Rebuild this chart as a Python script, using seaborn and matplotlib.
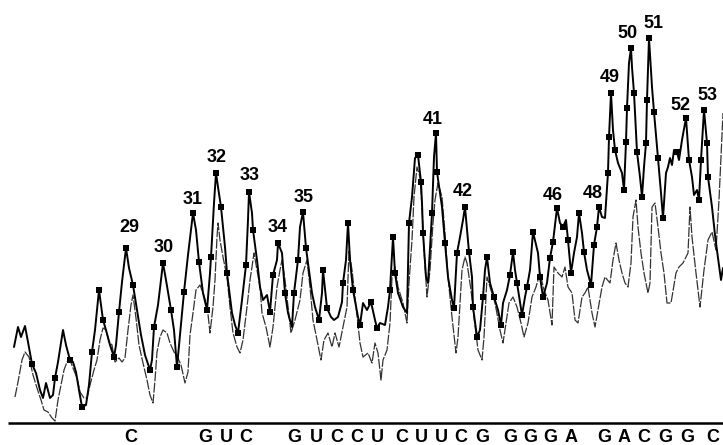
import matplotlib
matplotlib.use("Agg")
import matplotlib.pyplot as plt
import seaborn as sns
import pandas as pd

# Readings: (position, vertical reading, square marker?)
BASE = 423  # vertical reading of the baseline

solid_trace = [
    (14,347,0),(18,327,0),(21,337,0),(25,326,0),(28,342,0),(32,364,1),(36,373,0),(40,390,0),
    (43,398,0),(46,383,0),(50,398,0),(53,395,0),(55,378,1),(58,362,0),(63,330,0),(66,345,0),
    (70,360,1),(73,362,0),(76,372,0),(79,390,0),(82,407,1),(86,405,0),(89,385,0),(92,352,1),
    (95,330,0),(99,290,1),(103,320,1),(106,330,0),(110,345,0),(114,357,1),(116,345,0),(119,312,1),
    (122,282,0),(126,248,1),(129,268,0),(133,285,1),(137,310,0),(141,335,0),(145,355,0),(150,370,1),
    (152,360,0),(154,327,1),(158,305,0),(163,263,1),(166,280,0),(171,310,1),(174,330,0),(177,367,1),
    (180,335,0),(184,292,1),(188,255,0),(193,213,1),(196,230,0),(199,262,1),(203,293,0),(207,310,1),
    (210,273,0),(211,257,1),(214,203,0),(216,173,1),(218,187,0),(221,207,1),(225,247,0),(227,273,1),
    (232,313,0),(235,325,0),(238,333,1),(242,300,0),(246,265,1),(248,220,0),(249,192,1),(252,213,0),
    (253,230,1),(257,260,0),(260,287,0),(263,300,0),(267,295,0),(270,312,1),(273,275,1),(277,260,0),
    (278,243,1),(282,253,0),(285,293,1),(288,313,0),(292,327,0),(294,293,1),(298,260,1),(300,227,0),
    (303,212,1),(306,248,1),(308,263,0),(312,293,0),(315,307,0),(319,320,1),(322,293,0),(323,270,1),
    (327,308,1),(331,317,0),(334,320,0),(338,317,0),(342,302,0),(343,283,1),(346,260,0),(348,223,1),
    (350,260,0),(353,290,1),(358,317,0),(360,325,1),(363,303,0),(367,310,0),(371,302,1),(375,320,0),
    (377,328,1),(380,323,0),(385,325,0),(388,307,0),(390,290,1),(393,237,1),(395,273,1),(398,293,0),
    (403,307,0),(407,313,0),(409,223,1),(412,197,0),(415,158,0),(418,155,1),(421,182,1),(422,203,0),
    (423,233,1),(426,277,0),(428,283,0),(432,213,1),(434,157,0),(436,133,1),(437,172,1),(442,207,0),
    (445,243,1),(448,277,0),(452,300,0),(454,308,1),(457,253,1),(460,237,0),(463,220,0),(465,207,1),
    (467,230,0),(469,252,1),(472,277,0),(473,307,1),(477,337,1),(480,330,0),(483,297,1),(485,270,0),
    (487,257,1),(490,283,0),(494,297,1),(498,310,0),(501,325,1),(503,303,0),(507,290,0),(510,275,1),
    (513,252,1),(515,270,0),(517,283,1),(522,315,1),(525,297,0),(527,287,1),(530,270,0),(533,232,1),
    (538,253,0),(540,277,1),(543,297,1),(547,283,0),(550,258,1),(553,242,1),(557,208,1),(560,223,0),
    (563,227,1),(566,220,0),(568,240,1),(571,273,1),(574,253,0),(577,237,0),(579,213,1),(582,233,0),
    (584,252,1),(587,270,0),(591,285,1),(594,245,1),(597,227,1),(599,207,1),(602,217,0),(605,218,0),
    (608,173,1),(609,137,1),(611,93,1),(613,130,0),(615,150,1),(618,163,0),(622,173,0),(624,190,1),
    (626,142,1),(627,108,1),(629,63,0),(631,48,1),(632,67,0),(634,93,1),(637,152,1),(640,177,0),
    (642,197,1),(644,167,0),(646,143,1),(647,100,1),(649,38,1),(652,87,0),(654,112,1),(658,158,1),
    (661,193,0),(663,218,1),(666,173,0),(668,167,0),(670,158,0),(672,165,0),(674,150,0),(677,152,1),
    (679,160,0),(682,140,0),(686,118,1),(689,160,1),(692,177,0),(694,195,0),(697,190,0),(699,200,1),
    (701,160,1),(704,110,1),(707,143,1),(708,177,1),(712,207,0),(715,235,0),(718,258,0),(721,280,0),
    (723,268,0),
]

dashed_trace = [
    (15,397),(18,382),(22,360),(25,352),(29,357),(33,375),(37,388),(41,400),(44,410),(48,412),
    (52,418),(55,421),(58,400),(61,385),(64,370),(67,362),(70,360),(73,368),(77,378),(80,392),
    (84,398),(87,398),(90,385),(94,370),(97,360),(100,340),(103,328),(106,330),(109,342),(112,345),
    (115,362),(119,358),(122,362),(125,358),(128,330),(131,305),(133,295),(136,318),(139,345),(143,363),
    (147,380),(150,395),(153,403),(155,380),(157,352),(160,337),(163,330),(167,333),(170,343),(174,352),
    (178,358),(181,365),(185,383),(188,372),(190,335),(193,313),(196,290),(200,285),(203,293),(207,305),
    (210,333),(213,307),(215,280),(217,237),(218,223),(220,240),(223,257),(227,277),(230,307),(233,333),
    (237,347),(240,353),(243,340),(247,307),(250,280),(252,267),(254,253),(257,270),(260,287),(262,313),
    (266,327),(270,347),(273,327),(277,287),(280,270),(282,260),(285,280),(288,307),(291,333),(295,320),
    (300,300),(303,273),(307,260),(310,287),(313,320),(317,340),(321,360),(324,340),(328,333),(332,347),
    (335,333),(339,347),(343,327),(347,307),(349,250),(352,270),(355,297),(360,343),(363,357),(368,353),
    (372,363),(375,343),(378,353),(381,380),(383,360),(387,350),(390,323),(392,277),(395,267),(398,287),
    (403,303),(407,323),(409,283),(412,240),(414,197),(417,167),(420,177),(422,207),(424,250),(427,297),
    (430,270),(433,223),(435,200),(438,183),(442,197),(445,233),(448,277),(452,317),(456,353),(458,337),
    (462,270),(465,257),(467,263),(471,290),(474,317),(478,350),(482,360),(484,337),(487,277),(490,287),
    (495,303),(500,330),(503,343),(506,323),(509,303),(513,297),(517,307),(521,323),(524,337),(528,323),
    (532,297),(536,287),(540,273),(544,290),(548,300),(552,325),(554,267),(558,273),(562,277),(565,267),
    (568,287),(572,293),(575,320),(578,323),(582,297),(585,293),(588,287),(592,313),(595,327),(598,310),
    (602,287),(605,277),(610,283),(613,260),(616,243),(619,260),(622,273),(625,283),(628,287),(631,263),
    (633,217),(636,200),(638,227),(641,253),(644,273),(648,293),(650,283),(652,207),(655,203),(658,227),
    (661,253),(664,273),(667,303),(671,303),(676,273),(679,267),(683,263),(688,253),(690,207),(692,237),
    (696,273),(700,307),(704,270),(708,240),(712,232),(716,250),(719,200),(723,113),
]

peak_numbers = ["29","30","31","32","33","34","35","41","42","46","48","49","50","51","52","53"]
peak_label_x = [129,164,193,217,250,278,304,433,463,553,593,610,627,653,680,707]
peak_label_y = [228,248,200,157,176,227,197,120,192,196,193,77,33,23,105,95]

bases = list("CGUCGUCCUCUUCGGGGAGACGGC")
base_x = [131,205,226,246,294,316,337,357,377,402,421,441,461,482,510,530,550,571,604,624,644,665,687,713]

solid = pd.DataFrame(solid_trace, columns=["pos", "reading", "mark"])
solid["signal"] = BASE - solid["reading"]
dashed = pd.DataFrame(dashed_trace, columns=["pos", "reading"])
dashed["signal"] = BASE - dashed["reading"]

sns.set_theme(style="white")
plt.rcParams["font.family"] = ["Liberation Sans", "DejaVu Sans"]

fig = plt.figure(figsize=(7.23, 4.45), dpi=100)
ax = fig.add_axes([0, 0, 1, 1])

sns.lineplot(data=dashed, x="pos", y="signal", sort=False, estimator=None, ax=ax,
             color="#333333", linewidth=0.9, linestyle=(0, (8, 1.2)))
sns.lineplot(data=solid, x="pos", y="signal", sort=False, estimator=None, ax=ax,
             color="black", linewidth=1.4)
marks = solid[solid["mark"] == 1]
sns.scatterplot(data=marks, x="pos", y="signal", ax=ax, marker="s", s=16,
                color="black", edgecolor="black", linewidth=0, zorder=5)

ax.hlines(0, 8, 723, color="black", linewidth=1.8)

for t, x, y in zip(peak_numbers, peak_label_x, peak_label_y):
    ax.text(x, BASE - y, t, ha="center", va="center", fontsize=13,
            fontweight="bold", color="black")
for b, x in zip(bases, base_x):
    ax.text(x, BASE - 437, b, ha="center", va="center", fontsize=13,
            fontweight="bold", color="black")

ax.set_xlim(0, 723)
ax.set_ylim(BASE - 445, BASE)
ax.set_axis_off()
fig.savefig("out.png", dpi=100)
